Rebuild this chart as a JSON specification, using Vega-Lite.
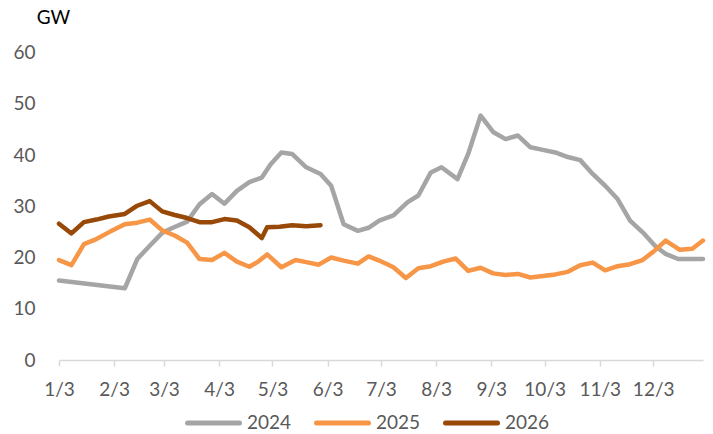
{
  "$schema": "https://vega.github.io/schema/vega-lite/v6.json",
  "autosize": {"type": "none"},
  "width": 644,
  "height": 307.5,
  "padding": {"left": 59, "top": 52.5, "right": 10, "bottom": 74},
  "config": {"font": "Lato", "view": {"stroke": null}},
  "data": {"values": [
    {"year":"2024","date":"2025/01/03","gw":15.5},
    {"year":"2024","date":"2025/02/09","gw":14.0},
    {"year":"2024","date":"2025/02/16","gw":19.7},
    {"year":"2024","date":"2025/02/23","gw":22.3},
    {"year":"2024","date":"2025/03/02","gw":24.8},
    {"year":"2024","date":"2025/03/08","gw":25.8},
    {"year":"2024","date":"2025/03/16","gw":27.0},
    {"year":"2024","date":"2025/03/23","gw":30.4},
    {"year":"2024","date":"2025/03/30","gw":32.4},
    {"year":"2024","date":"2025/04/06","gw":30.5},
    {"year":"2024","date":"2025/04/13","gw":33.0},
    {"year":"2024","date":"2025/04/20","gw":34.7},
    {"year":"2024","date":"2025/04/27","gw":35.6},
    {"year":"2024","date":"2025/05/02","gw":38.2},
    {"year":"2024","date":"2025/05/08","gw":40.5},
    {"year":"2024","date":"2025/05/14","gw":40.2},
    {"year":"2024","date":"2025/05/22","gw":37.6},
    {"year":"2024","date":"2025/05/30","gw":36.3},
    {"year":"2024","date":"2025/06/05","gw":34.0},
    {"year":"2024","date":"2025/06/12","gw":26.5},
    {"year":"2024","date":"2025/06/20","gw":25.2},
    {"year":"2024","date":"2025/06/26","gw":25.8},
    {"year":"2024","date":"2025/07/02","gw":27.2},
    {"year":"2024","date":"2025/07/10","gw":28.2},
    {"year":"2024","date":"2025/07/18","gw":30.8},
    {"year":"2024","date":"2025/07/24","gw":32.1},
    {"year":"2024","date":"2025/07/31","gw":36.6},
    {"year":"2024","date":"2025/08/06","gw":37.6},
    {"year":"2024","date":"2025/08/15","gw":35.3},
    {"year":"2024","date":"2025/08/21","gw":40.2},
    {"year":"2024","date":"2025/08/28","gw":47.7},
    {"year":"2024","date":"2025/09/04","gw":44.5},
    {"year":"2024","date":"2025/09/11","gw":43.1},
    {"year":"2024","date":"2025/09/18","gw":43.8},
    {"year":"2024","date":"2025/09/25","gw":41.5},
    {"year":"2024","date":"2025/10/02","gw":41.0},
    {"year":"2024","date":"2025/10/09","gw":40.5},
    {"year":"2024","date":"2025/10/16","gw":39.6},
    {"year":"2024","date":"2025/10/23","gw":39.0},
    {"year":"2024","date":"2025/10/30","gw":36.3},
    {"year":"2024","date":"2025/11/06","gw":34.0},
    {"year":"2024","date":"2025/11/13","gw":31.4},
    {"year":"2024","date":"2025/11/20","gw":27.2},
    {"year":"2024","date":"2025/11/28","gw":24.6},
    {"year":"2024","date":"2025/12/04","gw":22.3},
    {"year":"2024","date":"2025/12/10","gw":20.7},
    {"year":"2024","date":"2025/12/17","gw":19.7},
    {"year":"2024","date":"2025/12/24","gw":19.7},
    {"year":"2024","date":"2025/12/31","gw":19.7},

    {"year":"2025","date":"2025/01/03","gw":19.5},
    {"year":"2025","date":"2025/01/10","gw":18.5},
    {"year":"2025","date":"2025/01/17","gw":22.6},
    {"year":"2025","date":"2025/01/24","gw":23.6},
    {"year":"2025","date":"2025/02/01","gw":25.1},
    {"year":"2025","date":"2025/02/09","gw":26.5},
    {"year":"2025","date":"2025/02/16","gw":26.8},
    {"year":"2025","date":"2025/02/23","gw":27.4},
    {"year":"2025","date":"2025/03/02","gw":25.3},
    {"year":"2025","date":"2025/03/09","gw":24.3},
    {"year":"2025","date":"2025/03/16","gw":22.9},
    {"year":"2025","date":"2025/03/23","gw":19.7},
    {"year":"2025","date":"2025/03/30","gw":19.5},
    {"year":"2025","date":"2025/04/06","gw":20.9},
    {"year":"2025","date":"2025/04/13","gw":19.2},
    {"year":"2025","date":"2025/04/20","gw":18.2},
    {"year":"2025","date":"2025/04/25","gw":19.2},
    {"year":"2025","date":"2025/04/30","gw":20.6},
    {"year":"2025","date":"2025/05/08","gw":18.1},
    {"year":"2025","date":"2025/05/16","gw":19.5},
    {"year":"2025","date":"2025/05/22","gw":19.1},
    {"year":"2025","date":"2025/05/29","gw":18.6},
    {"year":"2025","date":"2025/06/05","gw":20.0},
    {"year":"2025","date":"2025/06/12","gw":19.4},
    {"year":"2025","date":"2025/06/20","gw":18.8},
    {"year":"2025","date":"2025/06/26","gw":20.2},
    {"year":"2025","date":"2025/07/02","gw":19.4},
    {"year":"2025","date":"2025/07/10","gw":18.1},
    {"year":"2025","date":"2025/07/17","gw":16.0},
    {"year":"2025","date":"2025/07/24","gw":17.9},
    {"year":"2025","date":"2025/07/31","gw":18.3},
    {"year":"2025","date":"2025/08/07","gw":19.2},
    {"year":"2025","date":"2025/08/14","gw":19.8},
    {"year":"2025","date":"2025/08/21","gw":17.4},
    {"year":"2025","date":"2025/08/28","gw":18.0},
    {"year":"2025","date":"2025/09/04","gw":16.9},
    {"year":"2025","date":"2025/09/11","gw":16.6},
    {"year":"2025","date":"2025/09/18","gw":16.8},
    {"year":"2025","date":"2025/09/25","gw":16.1},
    {"year":"2025","date":"2025/10/02","gw":16.4},
    {"year":"2025","date":"2025/10/09","gw":16.7},
    {"year":"2025","date":"2025/10/16","gw":17.2},
    {"year":"2025","date":"2025/10/23","gw":18.5},
    {"year":"2025","date":"2025/10/30","gw":19.0},
    {"year":"2025","date":"2025/11/06","gw":17.5},
    {"year":"2025","date":"2025/11/13","gw":18.3},
    {"year":"2025","date":"2025/11/20","gw":18.7},
    {"year":"2025","date":"2025/11/27","gw":19.5},
    {"year":"2025","date":"2025/12/03","gw":21.1},
    {"year":"2025","date":"2025/12/10","gw":23.3},
    {"year":"2025","date":"2025/12/18","gw":21.5},
    {"year":"2025","date":"2025/12/25","gw":21.7},
    {"year":"2025","date":"2025/12/31","gw":23.3},

    {"year":"2026","date":"2025/01/03","gw":26.6},
    {"year":"2026","date":"2025/01/10","gw":24.7},
    {"year":"2026","date":"2025/01/17","gw":26.9},
    {"year":"2026","date":"2025/01/24","gw":27.4},
    {"year":"2026","date":"2025/01/31","gw":28.0},
    {"year":"2026","date":"2025/02/09","gw":28.5},
    {"year":"2026","date":"2025/02/16","gw":30.1},
    {"year":"2026","date":"2025/02/23","gw":31.0},
    {"year":"2026","date":"2025/03/02","gw":29.0},
    {"year":"2026","date":"2025/03/09","gw":28.3},
    {"year":"2026","date":"2025/03/16","gw":27.7},
    {"year":"2026","date":"2025/03/23","gw":26.9},
    {"year":"2026","date":"2025/03/30","gw":26.9},
    {"year":"2026","date":"2025/04/06","gw":27.5},
    {"year":"2026","date":"2025/04/13","gw":27.2},
    {"year":"2026","date":"2025/04/20","gw":25.9},
    {"year":"2026","date":"2025/04/27","gw":23.8},
    {"year":"2026","date":"2025/04/30","gw":25.9},
    {"year":"2026","date":"2025/05/07","gw":26.0},
    {"year":"2026","date":"2025/05/14","gw":26.3},
    {"year":"2026","date":"2025/05/22","gw":26.1},
    {"year":"2026","date":"2025/05/30","gw":26.3}
  ]},
  "mark": {"type": "line", "strokeWidth": 4.5, "strokeCap": "round", "strokeJoin": "round"},
  "encoding": {
    "x": {
      "field": "date", "type": "temporal",
      "scale": {"domain": [{"year": 2025, "month": 1, "date": 3}, {"year": 2025, "month": 12, "date": 31}]},
      "axis": {
        "title": null, "format": "%-m/%-d", "grid": false,
        "values": [
          {"year": 2025, "month": 1, "date": 3}, {"year": 2025, "month": 2, "date": 3},
          {"year": 2025, "month": 3, "date": 3}, {"year": 2025, "month": 4, "date": 3},
          {"year": 2025, "month": 5, "date": 3}, {"year": 2025, "month": 6, "date": 3},
          {"year": 2025, "month": 7, "date": 3}, {"year": 2025, "month": 8, "date": 3},
          {"year": 2025, "month": 9, "date": 3}, {"year": 2025, "month": 10, "date": 3},
          {"year": 2025, "month": 11, "date": 3}, {"year": 2025, "month": 12, "date": 3}
        ],
        "domainColor": "#d9d9d9", "domainWidth": 1.5, "tickColor": "#d9d9d9", "tickWidth": 1.5, "tickSize": 6,
        "labelFont": "Lato", "labelFontSize": 19, "labelColor": "#595959", "labelPadding": 14, "labelFlush": false, "labelOverlap": false
      }
    },
    "y": {
      "field": "gw", "type": "quantitative",
      "scale": {"domain": [0, 60]},
      "axis": {
        "values": [0, 10, 20, 30, 40, 50, 60], "grid": false, "domain": false, "ticks": false,
        "labelFont": "Lato", "labelFontSize": 19, "labelColor": "#595959", "labelPadding": 24,
        "title": "GW", "titleAngle": 0, "titleAlign": "center", "titleBaseline": "alphabetic",
        "titleX": -6, "titleY": -29.5, "titleFont": "Lato", "titleFontSize": 19, "titleFontWeight": "normal", "titleColor": "#000000"
      }
    },
    "color": {
      "field": "year", "type": "nominal",
      "scale": {"domain": ["2024", "2025", "2026"], "range": ["#A5A5A5", "#F79646", "#984807"]},
      "legend": {
        "title": null, "orient": "none", "direction": "horizontal", "legendX": 126, "legendY": 360.5,
        "symbolType": "stroke", "symbolSize": 2704, "symbolStrokeWidth": 5, "labelOffset": 5, "clipHeight": 20,
        "columnPadding": 22, "labelFont": "Lato", "labelFontSize": 19, "labelColor": "#595959",
        "encode": {"symbols": {"update": {"strokeCap": {"value": "round"}}}}
      }
    }
  }
}
